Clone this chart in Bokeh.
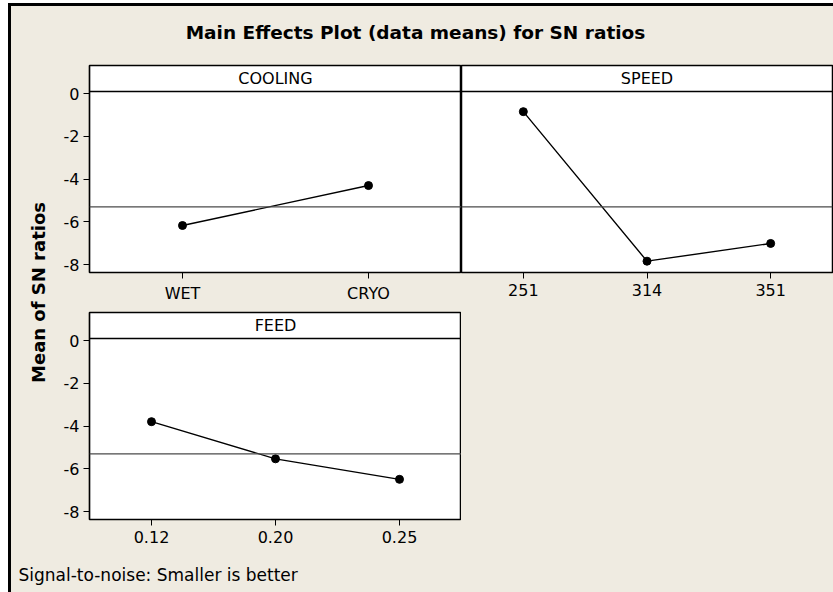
from math import pi
from bokeh.plotting import figure
from bokeh.models import FactorRange, Range1d, Span, Label, FixedTicker, Spacer
from bokeh.layouts import row, column
from bokeh.embed import file_html
from bokeh.resources import INLINE

# ---------------- data ----------------
TITLE = "Main Effects Plot (data means) for SN ratios"
Y_LABEL = "Mean of SN ratios"
FOOTNOTE = "Signal-to-noise: Smaller is better"

cooling_levels = ["WET", "CRYO"]
cooling_means = [-6.17, -4.30]

speed_levels = ["251", "314", "351"]
speed_means = [-0.84, -7.84, -7.01]

feed_levels = ["0.12", "0.20", "0.25"]
feed_means = [-3.79, -5.53, -6.49]

grand_mean = -5.30
y_ticks = [-8, -6, -4, -2, 0]

# ---------------- style ----------------
BG = "#EFEBE1"
FONT = "DejaVu Sans"
Y_MIN, Y_MAX = -8.37, 1.32
HEADER_Y = 0.107
FRAME_H = 207
MB_BOTTOM = 35


def panel(name, levels, means, width, show_y, mbl, mbr, mbt):
    p = figure(
        x_range=FactorRange(*levels, range_padding=0),
        y_range=Range1d(Y_MIN, Y_MAX),
        width=width, height=mbt + FRAME_H + MB_BOTTOM,
        min_border_left=mbl, min_border_right=mbr,
        min_border_top=mbt, min_border_bottom=MB_BOTTOM,
        output_backend="svg", toolbar_location=None,
        background_fill_color="white", border_fill_color=BG,
        outline_line_color="black", outline_line_width=1.5,
        y_axis_location="left" if show_y else None,
    )
    p.xgrid.visible = False
    p.ygrid.visible = False
    for ax in p.axis:
        ax.axis_line_color = "black"
        ax.axis_line_width = 1.2
        ax.major_tick_line_color = "black"
        ax.major_tick_out = 6
        ax.major_tick_in = 0
        ax.minor_tick_line_color = None
        ax.major_label_text_font = FONT
        ax.major_label_text_font_size = "16px"
        ax.major_label_text_color = "black"
    p.xaxis.major_label_standoff = 5
    if show_y:
        p.yaxis.ticker = FixedTicker(ticks=y_ticks)
        p.yaxis.major_label_overrides = {t: str(t) for t in y_ticks}
        p.yaxis.major_label_standoff = 4

    p.add_layout(Span(location=grand_mean, dimension="width",
                      line_color="#4a4a4a", line_width=1.2))
    p.add_layout(Span(location=HEADER_Y, dimension="width",
                      line_color="black", line_width=1.5))
    p.add_layout(Label(x=len(levels) / 2, y=(HEADER_Y + Y_MAX) / 2, text=name,
                       text_align="center", text_baseline="middle",
                       text_font=FONT, text_font_size="16px", text_color="black"))

    p.line(x=levels, y=means, line_color="black", line_width=1.4)
    p.scatter(x=levels, y=means, size=8, fill_color="black", line_color="black")
    return p


def deco(width, height):
    f = figure(width=width, height=height,
               x_range=Range1d(0, width), y_range=Range1d(0, height),
               min_border=0, x_axis_type=None, y_axis_type=None,
               output_backend="svg", toolbar_location=None,
               background_fill_color=BG, border_fill_color=BG,
               outline_line_color=None)
    f.xgrid.visible = False
    f.ygrid.visible = False
    return f


p1 = panel("COOLING", cooling_levels, cooling_means, 406, True, 34, 0, 10)
p2 = panel("SPEED", speed_levels, speed_means, 372, False, 0, 1, 10)
p3 = panel("FEED", feed_levels, feed_means, 406, True, 34, 0, 5)

tfig = deco(822, 49)
tfig.add_layout(Label(x=404, y=23, text=TITLE, text_align="center",
                      text_baseline="middle", text_font=FONT,
                      text_font_size="18.5px", text_font_style="bold",
                      text_color="black"))

yfig = deco(44, 499)
yfig.add_layout(Label(x=27, y=262, text=Y_LABEL, angle=pi / 2,
                      text_align="center", text_baseline="middle",
                      text_font=FONT, text_font_size="18px",
                      text_font_style="bold", text_color="black"))

ffig = deco(822, 38)
ffig.add_layout(Label(x=7, y=18, text=FOOTNOTE, text_align="left",
                      text_baseline="middle", text_font=FONT,
                      text_font_size="17px", text_color="black"))

grid = column(row(p1, p2), row(p3, Spacer(width=372, height=247)))
framed = column(tfig, row(yfig, grid), ffig,
                styles={"background-color": BG,
                        "border-left": "3px solid black",
                        "border-top": "3px solid black"})
layout = column(Spacer(width=833, height=3),
                row(Spacer(width=8, height=589), framed),
                styles={"background-color": "white"})

open("out.html", "w").write(file_html(layout, INLINE))
